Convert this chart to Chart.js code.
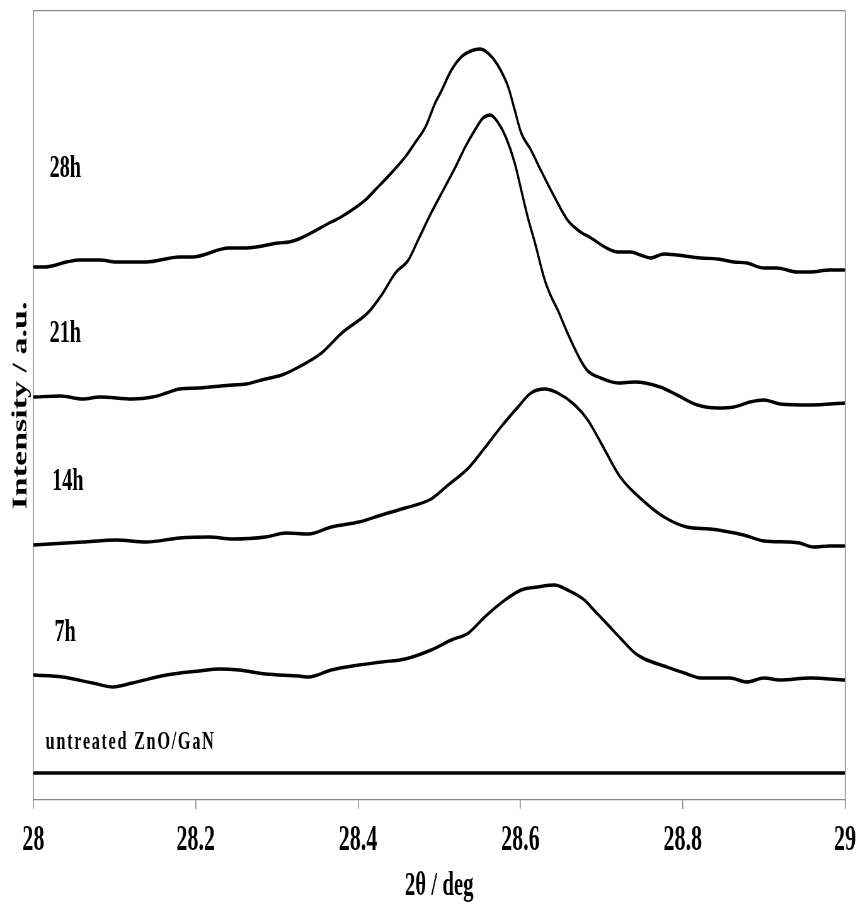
<!DOCTYPE html>
<html><head><meta charset="utf-8">
<script src="https://cdn.jsdelivr.net/npm/chart.js@4.4.1/dist/chart.umd.min.js"></script>
<style>html,body{margin:0;padding:0;background:#fff;overflow:hidden}</style>
</head><body>
<canvas id="c" width="1370" height="907" style="display:block;width:863px;height:907px"></canvas>
<script>
// ---- data (2θ in deg, intensity in arbitrary units, curves offset vertically as in the figure) ----
const theta28h = [28.000,28.014,28.041,28.057,28.082,28.102,28.139,28.180,28.196,28.241,28.262,28.302,28.315,28.327,28.367,28.379,28.409,28.421,28.441,28.458,28.470,28.483,28.495,28.502,28.515,28.527,28.539,28.550,28.560,28.572,28.585,28.593,28.601,28.613,28.625,28.642,28.658,28.674,28.687,28.704,28.720,28.736,28.748,28.760,28.777,28.793,28.822,28.843,28.863,28.879,28.900,28.916,28.941,28.957,28.981,29.000];
const int28h   = [533,533,538,540,540,538,538,543,543,552,552,557,558,561,578,583,600,610,627,643,657,673,697,708,730,743,749,751,747,735,713,690,667,650,630,603,580,568,562,553,548,548,545,542,546,545,542,541,538,537,532,532,528,528,530,530];

const theta21h = [28.000,28.033,28.061,28.082,28.122,28.147,28.164,28.180,28.204,28.245,28.262,28.286,28.306,28.327,28.355,28.380,28.413,28.429,28.446,28.462,28.474,28.490,28.507,28.520,28.532,28.544,28.554,28.563,28.572,28.582,28.593,28.601,28.609,28.618,28.630,28.637,28.646,28.658,28.674,28.683,28.699,28.720,28.741,28.772,28.793,28.818,28.843,28.863,28.883,28.900,28.920,28.957,29.000];
const int21h   = [403,404,401,403,401,403,407,411,412,415,416,421,425,433,447,467,488,505,527,540,560,587,613,633,653,670,682,685,678,663,637,610,583,557,520,505,490,467,440,429,422,417,418,413,405,395,392,393,398,400,396,395,397];

const theta14h = [28.000,28.061,28.102,28.139,28.180,28.217,28.245,28.286,28.311,28.339,28.367,28.401,28.429,28.458,28.490,28.511,28.536,28.556,28.576,28.597,28.613,28.630,28.646,28.667,28.683,28.704,28.723,28.753,28.777,28.805,28.834,28.875,28.900,28.932,28.944,28.961,28.981,29.000];
const int14h   = [255,258,260,258,262,263,261,263,267,266,273,278,285,292,301,315,332,352,373,393,407,411,407,395,380,350,323,298,283,273,271,265,259,258,257,253,254,254];

const theta7h = [28.000,28.036,28.073,28.098,28.122,28.164,28.204,28.229,28.253,28.286,28.327,28.339,28.367,28.401,28.429,28.458,28.490,28.515,28.536,28.556,28.581,28.601,28.621,28.642,28.658,28.679,28.687,28.708,28.723,28.741,28.753,28.777,28.802,28.822,28.858,28.879,28.900,28.920,28.957,29.000];
const int7h   = [125,123,117,113,117,125,129,131,130,126,124,123,130,135,138,141,150,160,167,183,200,210,213,215,210,200,193,175,162,147,141,134,127,122,122,118,122,120,122,120];

const thetaUntreated = [28.0, 29.0];
const intUntreated   = [27, 27];

const xTickValues = [28, 28.2, 28.4, 28.6, 28.8, 29];
const xTickLabels = ['28', '28.2', '28.4', '28.6', '28.8', '29'];

const seriesNames    = ['28h', '21h', '14h', '7h', 'untreated ZnO/GaN'];
const labelTheta     = [28.020, 28.020, 28.023, 28.026, 28.015];
const labelIntensity = [623, 458, 310, 159, 51];

const xTitle = '2θ / deg';
const yTitle = 'Intensity / a.u.';

// ---- chart ----
const toPts = (xs, ys) => xs.map((x, i) => ({x: x, y: ys[i]}));
const FONT = "'Liberation Serif', 'Times New Roman', serif";
const GRAY = '#8a8a8a';

const line = (data, w) => ({
  data: data, borderColor: '#000', borderWidth: w, pointRadius: 0,
  cubicInterpolationMode: 'monotone', fill: false
});

const labelPlugin = {
  id: 'seriesLabels',
  afterDatasetsDraw(chart) {
    const {ctx, scales: {x, y}} = chart;
    ctx.save();
    ctx.fillStyle = '#000';
    ctx.textAlign = 'left';
    ctx.textBaseline = 'alphabetic';
    seriesNames.forEach((name, i) => {
      const small = i === seriesNames.length - 1;
      ctx.font = 'bold ' + (small ? 26 : 32) + 'px ' + FONT;
      if ('letterSpacing' in ctx) ctx.letterSpacing = small ? '2.6px' : '0px';
      ctx.fillText(name, x.getPixelForValue(labelTheta[i]), y.getPixelForValue(labelIntensity[i]));
    });
    ctx.restore();
  }
};

new Chart(document.getElementById('c'), {
  type: 'line',
  data: {
    datasets: [
      line(toPts(theta28h, int28h), 3.4),
      line(toPts(theta21h, int21h), 3.4),
      line(toPts(theta14h, int14h), 3.4),
      line(toPts(theta7h, int7h), 3.4),
      line(toPts(thetaUntreated, intUntreated), 3.5)
    ]
  },
  options: {
    responsive: false,
    devicePixelRatio: 1,
    animation: false,
    layout: {padding: {top: 11, right: 23, bottom: 0, left: 0}},
    plugins: {legend: {display: false}, tooltip: {enabled: false}},
    scales: {
      x: {
        type: 'linear', position: 'bottom', min: 28, max: 29,
        afterBuildTicks: s => { s.ticks = xTickValues.map(v => ({value: v})); },
        afterFit: s => { s.height = 107; },
        ticks: {
          callback: (v, i) => xTickLabels[i],
          font: {family: FONT, size: 35, weight: 'bold'},
          color: '#000', padding: 11, maxRotation: 0, autoSkip: false
        },
        grid: {display: true, drawOnChartArea: false, drawTicks: true, tickLength: 9,
               tickColor: GRAY, tickWidth: 1.6, lineWidth: 1.6, color: GRAY},
        border: {display: true, color: GRAY, width: 1.2},
        title: {display: true, text: xTitle, color: '#000',
                font: {family: FONT, size: 33, weight: 'bold'}, padding: {top: 0, bottom: 1}}
      },
      y: {
        type: 'linear', position: 'left', min: 0, max: 789,
        afterFit: s => { s.width = 53; },
        ticks: {display: false},
        grid: {display: false, drawTicks: false},
        border: {display: true, color: GRAY, width: 1.6},
        title: {display: true, text: yTitle, color: '#000',
                font: {family: FONT, size: 34, weight: 'bold'}, padding: {top: 12.5, bottom: 0}}
      },
      x2: {
        type: 'linear', position: 'top', min: 28, max: 29,
        afterFit: s => { s.height = 0; },
        ticks: {display: false},
        grid: {display: false, drawTicks: false},
        border: {display: true, color: GRAY, width: 1.2}
      },
      y2: {
        type: 'linear', position: 'right', min: 0, max: 789,
        afterFit: s => { s.width = 0; },
        ticks: {display: false},
        grid: {display: false, drawTicks: false},
        border: {display: true, color: GRAY, width: 1.6}
      }
    }
  },
  plugins: [labelPlugin]
});
</script>
</body></html>
